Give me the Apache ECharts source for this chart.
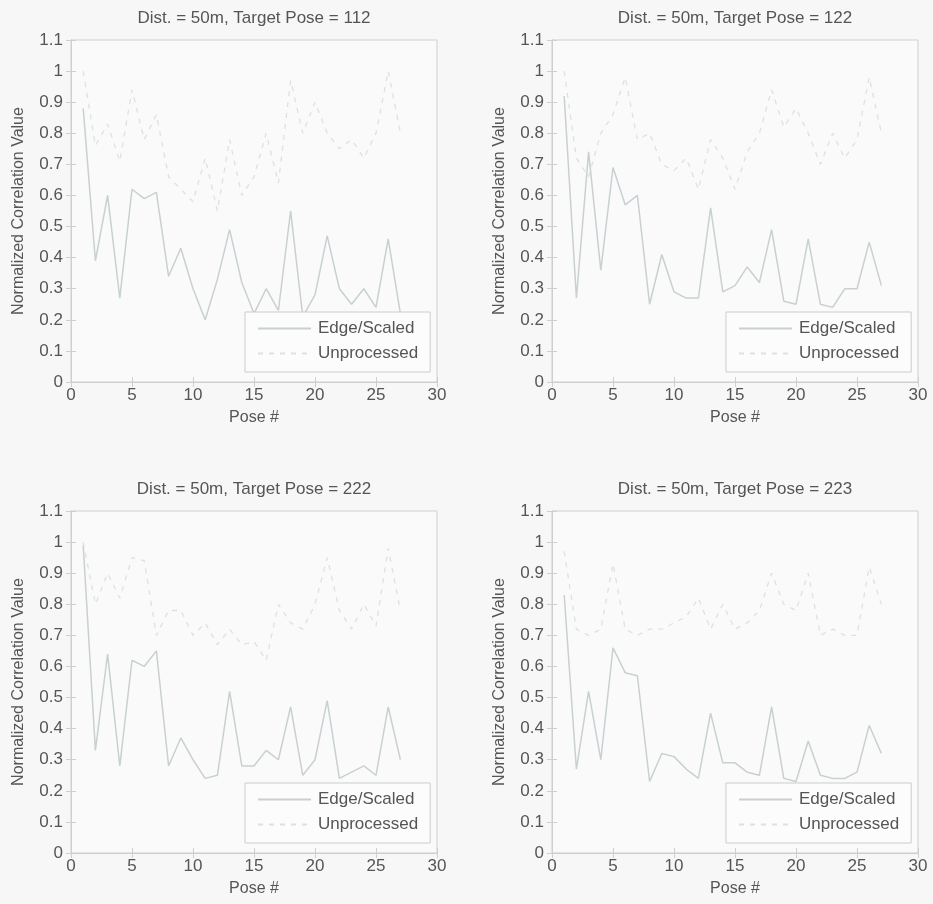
<!DOCTYPE html>
<html>
<head>
<meta charset="utf-8">
<title>Normalized correlation vs pose</title>
<script src="https://cdn.jsdelivr.net/npm/echarts@6/dist/echarts.min.js"></script>
<style>
  html, body { margin: 0; padding: 0; background: #f7f7f7; }
  #chart { width: 933px; height: 904px; }
</style>
</head>
<body>
<div id="chart"></div>
<script>
// Pose numbers on the x axis
const poses = [1,2,3,4,5,6,7,8,9,10,11,12,13,14,15,16,17,18,19,20,21,22,23,24,25,26,27];

// Target pose labels, one panel each
const targetPoses = ['112', '122', '222', '223'];

// Edge/Scaled correlation per panel
const edge112 = [0.88,0.39,0.60,0.27,0.62,0.59,0.61,0.34,0.43,0.30,0.20,0.33,0.49,0.32,0.22,0.30,0.23,0.55,0.21,0.28,0.47,0.30,0.25,0.30,0.24,0.46,0.22];
const edge122 = [0.92,0.27,0.74,0.36,0.69,0.57,0.60,0.25,0.41,0.29,0.27,0.27,0.56,0.29,0.31,0.37,0.32,0.49,0.26,0.25,0.46,0.25,0.24,0.30,0.30,0.45,0.31];
const edge222 = [0.99,0.33,0.64,0.28,0.62,0.60,0.65,0.28,0.37,0.30,0.24,0.25,0.52,0.28,0.28,0.33,0.30,0.47,0.25,0.30,0.49,0.24,0.26,0.28,0.25,0.47,0.30];
const edge223 = [0.83,0.27,0.52,0.30,0.66,0.58,0.57,0.23,0.32,0.31,0.27,0.24,0.45,0.29,0.29,0.26,0.25,0.47,0.24,0.23,0.36,0.25,0.24,0.24,0.26,0.41,0.32];

// Unprocessed correlation per panel
const raw112 = [1.00,0.76,0.83,0.71,0.94,0.78,0.86,0.66,0.62,0.58,0.72,0.55,0.78,0.60,0.66,0.80,0.64,0.97,0.80,0.90,0.80,0.75,0.78,0.72,0.80,1.00,0.80];
const raw122 = [1.00,0.72,0.66,0.80,0.86,0.98,0.78,0.80,0.70,0.68,0.72,0.62,0.78,0.72,0.62,0.74,0.80,0.94,0.82,0.88,0.80,0.70,0.80,0.72,0.78,0.98,0.80];
const raw222 = [1.00,0.80,0.90,0.82,0.95,0.94,0.70,0.78,0.78,0.70,0.74,0.67,0.72,0.67,0.68,0.62,0.80,0.74,0.72,0.80,0.95,0.78,0.72,0.80,0.73,0.98,0.78];
const raw223 = [0.97,0.72,0.70,0.72,0.93,0.72,0.70,0.72,0.72,0.74,0.76,0.82,0.72,0.80,0.72,0.74,0.78,0.90,0.80,0.78,0.90,0.70,0.72,0.70,0.70,0.92,0.80];

const edgeSets = [edge112, edge122, edge222, edge223];
const rawSets = [raw112, raw122, raw222, raw223];

// Axis ranges and ticks
const xMin = 0, xMax = 30, xStep = 5;
const yMin = 0, yMax = 1.1, yStep = 0.1;

const FONT = 'Arial, "Liberation Sans", sans-serif';
const TEXT = '#555555';
const AXIS = '#cfcfcf';
const EDGE_COLOR = '#c8d0d2';
const RAW_COLOR = '#dde2de';

// Panel layout (2 x 2)
const W = 366, H = 342;
const panels = [
  { left: 71,  top: 40 },
  { left: 552, top: 40 },
  { left: 71,  top: 511 },
  { left: 552, top: 511 }
];

const grid = [], xAxis = [], yAxis = [], series = [], title = [], legend = [];

panels.forEach((p, i) => {
  grid.push({
    left: p.left, top: p.top, width: W, height: H,
    show: true, backgroundColor: '#fafafa', borderColor: AXIS, borderWidth: 1
  });

  title.push({
    text: 'Dist. = 50m, Target Pose = ' + targetPoses[i],
    left: p.left + W / 2, top: p.top - 30, textAlign: 'center', padding: 0,
    textStyle: { fontFamily: FONT, fontSize: 17, fontWeight: 'normal', color: TEXT }
  });

  // bottom x axis with labels
  xAxis.push({
    type: 'value', gridIndex: i, position: 'bottom',
    min: xMin, max: xMax, interval: xStep,
    name: 'Pose #', nameLocation: 'middle', nameGap: 28,
    nameTextStyle: { fontFamily: FONT, fontSize: 16, color: TEXT },
    axisLine: { show: true, lineStyle: { color: AXIS } },
    axisTick: { show: true, inside: true, length: 5, lineStyle: { color: AXIS } },
    axisLabel: { fontFamily: FONT, fontSize: 17, color: TEXT, margin: 5 },
    splitLine: { show: false }
  });
  // top x axis, ticks only
  xAxis.push({
    type: 'value', gridIndex: i, position: 'top',
    min: xMin, max: xMax, interval: xStep,
    axisLine: { show: true, lineStyle: { color: AXIS } },
    axisTick: { show: true, inside: true, length: 5, lineStyle: { color: AXIS } },
    axisLabel: { show: false },
    splitLine: { show: false }
  });

  // left y axis with labels
  yAxis.push({
    type: 'value', gridIndex: i, position: 'left',
    min: yMin, max: yMax, interval: yStep,
    name: 'Normalized Correlation Value', nameLocation: 'middle', nameGap: 44,
    nameTextStyle: { fontFamily: FONT, fontSize: 16, color: TEXT },
    axisLine: { show: true, lineStyle: { color: AXIS } },
    axisTick: { show: true, inside: true, length: 5, lineStyle: { color: AXIS } },
    axisLabel: {
      fontFamily: FONT, fontSize: 17, color: TEXT, margin: 8,
      formatter: v => String(Math.round(v * 10) / 10)
    },
    splitLine: { show: false }
  });
  // right y axis, ticks only
  yAxis.push({
    type: 'value', gridIndex: i, position: 'right',
    min: yMin, max: yMax, interval: yStep,
    axisLine: { show: true, lineStyle: { color: AXIS } },
    axisTick: { show: true, inside: true, length: 5, lineStyle: { color: AXIS } },
    axisLabel: { show: false },
    splitLine: { show: false }
  });

  series.push({
    name: 'Edge/Scaled', type: 'line',
    xAxisIndex: i * 2, yAxisIndex: i * 2,
    data: poses.map((x, k) => [x, edgeSets[i][k]]),
    symbol: 'none', animation: false,
    lineStyle: { color: EDGE_COLOR, width: 1.5 },
    itemStyle: { color: EDGE_COLOR }
  });
  series.push({
    name: 'Unprocessed', type: 'line',
    xAxisIndex: i * 2, yAxisIndex: i * 2,
    data: poses.map((x, k) => [x, rawSets[i][k]]),
    symbol: 'none', animation: false,
    lineStyle: { color: RAW_COLOR, width: 1.3, type: [5, 6] },
    itemStyle: { color: RAW_COLOR }
  });

  legend.push({
    data: ['Edge/Scaled', 'Unprocessed'],
    orient: 'vertical',
    left: p.left + 174, top: p.top + 272,
    padding: [8, 12, 10, 12],
    itemWidth: 53, itemHeight: 14, itemGap: 8,
    itemStyle: { opacity: 0 },
    backgroundColor: '#fcfcfc', borderColor: '#cccccc', borderWidth: 1,
    selectedMode: false,
    textStyle: { fontFamily: FONT, fontSize: 17, color: TEXT, padding: [0, 0, 0, 2] }
  });
});

const chart = echarts.init(document.getElementById('chart'), null, { renderer: 'canvas' });
chart.setOption({
  backgroundColor: '#f7f7f7',
  animation: false,
  title, grid, xAxis, yAxis, legend, series
});
</script>
</body>
</html>
